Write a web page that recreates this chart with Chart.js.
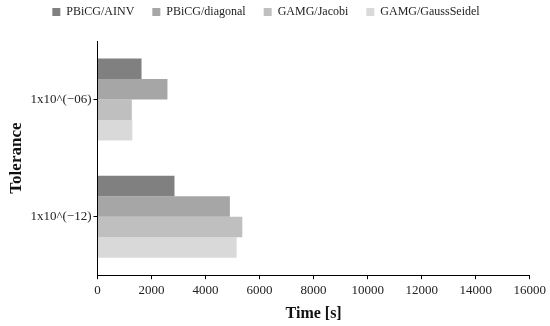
<!DOCTYPE html>
<html><head><meta charset="utf-8">
<script src="https://cdn.jsdelivr.net/npm/chart.js@4"></script>
<style>html,body{margin:0;padding:0;background:#fff}</style>
</head><body>
<canvas id="c" width="550" height="326"></canvas>
<script>
const categories = ["1x10^(\u221206)", "1x10^(\u221212)"];
const seriesNames = ["PBiCG/AINV", "PBiCG/diagonal", "GAMG/Jacobi", "GAMG/GaussSeidel"];
const ainv = [1630, 2850];
const diagonal = [2590, 4900];
const jacobi = [1270, 5360];
const gaussSeidel = [1290, 5150];
const xTicks = [0, 2000, 4000, 6000, 8000, 10000, 12000, 14000, 16000];
const colors = ["#808080", "#a6a6a6", "#bfbfbf", "#d9d9d9"];

const font = "'Liberation Serif', 'Times New Roman', serif";
const legendPad = {
  id: 'legendPad',
  beforeLayout(chart) {
    const lg = chart.legend;
    if (lg && !lg._patched) {
      const orig = lg.fit;
      lg.fit = function () { orig.call(this); this.height += 13; };
      lg._patched = true;
    }
  }
};
new Chart(document.getElementById('c'), {
  type: 'bar',
  data: {
    labels: categories,
    datasets: [ainv, diagonal, jacobi, gaussSeidel].map((d, i) => ({
      label: seriesNames[i], data: d, backgroundColor: colors[i], borderWidth: 0,
      categoryPercentage: 0.7, barPercentage: 1.0
    }))
  },
  plugins: [legendPad],
  options: {
    indexAxis: 'y', responsive: false, animation: false,
    layout: { padding: { left: 2, right: 20, top: -12, bottom: 0 } },
    plugins: {
      legend: { position: 'top', labels: { boxWidth: 8, boxHeight: 8, padding: 18, color: '#222', font: { family: font, size: 12 } } },
      tooltip: { enabled: false }
    },
    scales: {
      x: {
        min: 0, max: 16000,
        afterBuildTicks: s => { s.ticks = xTicks.map(v => ({ value: v })); },
        ticks: { color: '#222', font: { family: font, size: 13 }, maxRotation: 0, padding: 4, callback: v => String(v) },
        grid: { drawOnChartArea: false, tickLength: 4, color: '#000' },
        border: { color: '#000', width: 1 },
        title: { display: true, text: 'Time [s]', color: '#111', font: { family: font, size: 16, weight: 'bold' }, padding: { top: 1, bottom: 3 } }
      },
      y: {
        ticks: { color: '#222', font: { family: font, size: 13 }, padding: 2 },
        grid: { drawOnChartArea: false, tickLength: 4, color: '#000', offset: false },
        border: { color: '#000', width: 1 },
        title: { display: true, text: 'Tolerance', color: '#111', font: { family: font, size: 17, weight: 'bold' }, padding: { top: 4, bottom: 2 } }
      }
    }
  }
});
</script>
</body></html>
